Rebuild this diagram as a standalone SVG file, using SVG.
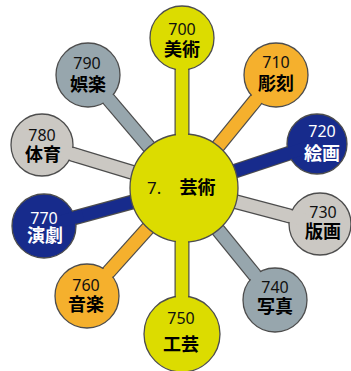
<svg xmlns="http://www.w3.org/2000/svg" width="351" height="371" viewBox="0 0 351 371">
<style>
.bo{stroke:#4d4d4d;stroke-width:15;stroke-linecap:butt}
.bi{stroke-width:12.6;stroke-linecap:butt}
.cv{stroke-width:12;stroke-linecap:butt}
.nd{stroke:#4d4d4d;stroke-width:1.3}
.y{fill:#dcdc00;stroke:#dcdc00}
.o{fill:#f5b02d;stroke:#f5b02d}
.n{fill:#172b8c;stroke:#172b8c}
.g{fill:#97a6ad;stroke:#97a6ad}
.l{fill:#cbc8c3;stroke:#cbc8c3}
circle.y,circle.o,circle.n,circle.g,circle.l{stroke:#4d4d4d}
.num{font-family:"Noto Sans","DejaVu Sans",sans-serif;font-size:16px;text-anchor:middle;fill:#111}
.kj{font-family:"Noto Sans CJK JP",sans-serif;font-size:18px;font-weight:bold;text-anchor:middle;fill:#000}
.w{fill:#fff}
</style>
<g id="connectors">
<line class="bo" x1="182" y1="38" x2="182" y2="334"/><line class="bi y" x1="182" y1="38" x2="182" y2="334"/>
<line class="bo" x1="184" y1="188" x2="276" y2="75"/><line class="bi o" x1="184" y1="188" x2="276" y2="75"/>
<line class="bo" x1="184" y1="188" x2="317" y2="144"/><line class="bi n" x1="184" y1="188" x2="317" y2="144"/>
<line class="bo" x1="184" y1="188" x2="320" y2="224"/><line class="bi l" x1="184" y1="188" x2="320" y2="224"/>
<line class="bo" x1="184" y1="188" x2="275" y2="300"/><line class="bi g" x1="184" y1="188" x2="275" y2="300"/>
<line class="bo" x1="184" y1="188" x2="87" y2="296"/><line class="bi o" x1="184" y1="188" x2="87" y2="296"/>
<line class="bo" x1="184" y1="188" x2="44" y2="226"/><line class="bi n" x1="184" y1="188" x2="44" y2="226"/>
<line class="bo" x1="184" y1="188" x2="42" y2="145"/><line class="bi l" x1="184" y1="188" x2="42" y2="145"/>
<line class="bo" x1="184" y1="188" x2="88" y2="75"/><line class="bi g" x1="184" y1="188" x2="88" y2="75"/>
</g>
<g id="n700">
<circle class="nd y" cx="182" cy="38" r="32"/>
<line class="cv y" x1="182" y1="38" x2="182" y2="76"/>
<text class="num" x="182" y="35">700</text><text class="kj" x="182" y="56">美術</text>
</g>
<g id="n710">
<circle class="nd o" cx="276" cy="75" r="32"/>
<line class="cv o" x1="276" y1="75" x2="251" y2="106"/>
<text class="num" x="276" y="68">710</text><text class="kj" x="276" y="89.5">彫刻</text>
</g>
<g id="n720">
<circle class="nd n" cx="317" cy="144" r="30"/>
<line class="cv n" x1="317" y1="144" x2="279" y2="156.6"/>
<text class="num w" x="322" y="137">720</text><text class="kj w" x="322" y="159.5">絵画</text>
</g>
<g id="n730">
<circle class="nd l" cx="320" cy="224" r="31"/>
<line class="cv l" x1="320" y1="224" x2="282" y2="214"/>
<text class="num" x="323" y="218">730</text><text class="kj" x="323" y="237.5">版画</text>
</g>
<g id="n740">
<circle class="nd g" cx="275" cy="300" r="32"/>
<line class="cv g" x1="275" y1="300" x2="250" y2="269"/>
<text class="num" x="275" y="293">740</text><text class="kj" x="275" y="312.5">写真</text>
</g>
<g id="n750">
<circle class="nd y" cx="182" cy="334" r="38"/>
<line class="cv y" x1="182" y1="334" x2="182" y2="292"/>
<text class="num" x="181" y="324">750</text><text class="kj" x="181" y="350.5">工芸</text>
</g>
<g id="n760">
<circle class="nd o" cx="87" cy="296" r="32"/>
<line class="cv o" x1="87" y1="296" x2="114" y2="266"/>
<text class="num" x="86" y="291">760</text><text class="kj" x="86" y="310.5">音楽</text>
</g>
<g id="n770">
<circle class="nd n" cx="44" cy="226" r="32"/>
<line class="cv n" x1="44" y1="226" x2="83" y2="215.4"/>
<text class="num w" x="44" y="224">770</text><text class="kj w" x="45" y="241.5">演劇</text>
</g>
<g id="n780">
<circle class="nd l" cx="42" cy="145" r="31"/>
<line class="cv l" x1="42" y1="145" x2="80" y2="156.5"/>
<text class="num" x="42" y="141">780</text><text class="kj" x="43" y="160.5">体育</text>
</g>
<g id="n790">
<circle class="nd g" cx="88" cy="75" r="32"/>
<line class="cv g" x1="88" y1="75" x2="113" y2="104.5"/>
<text class="num" x="87" y="69">790</text><text class="kj" x="88" y="90.5">娯楽</text>
</g>
<g id="n7">
<circle class="nd y" cx="184" cy="188" r="54"/>
<line class="cv y" x1="182" y1="128" x2="182" y2="146"/>
<line class="cv y" x1="182" y1="230" x2="182" y2="248"/>
<text class="num" x="147" y="194" style="text-anchor:start;font-size:17px">7.</text>
<text class="kj" x="197.5" y="193.5">芸術</text>
</g>
</svg>
